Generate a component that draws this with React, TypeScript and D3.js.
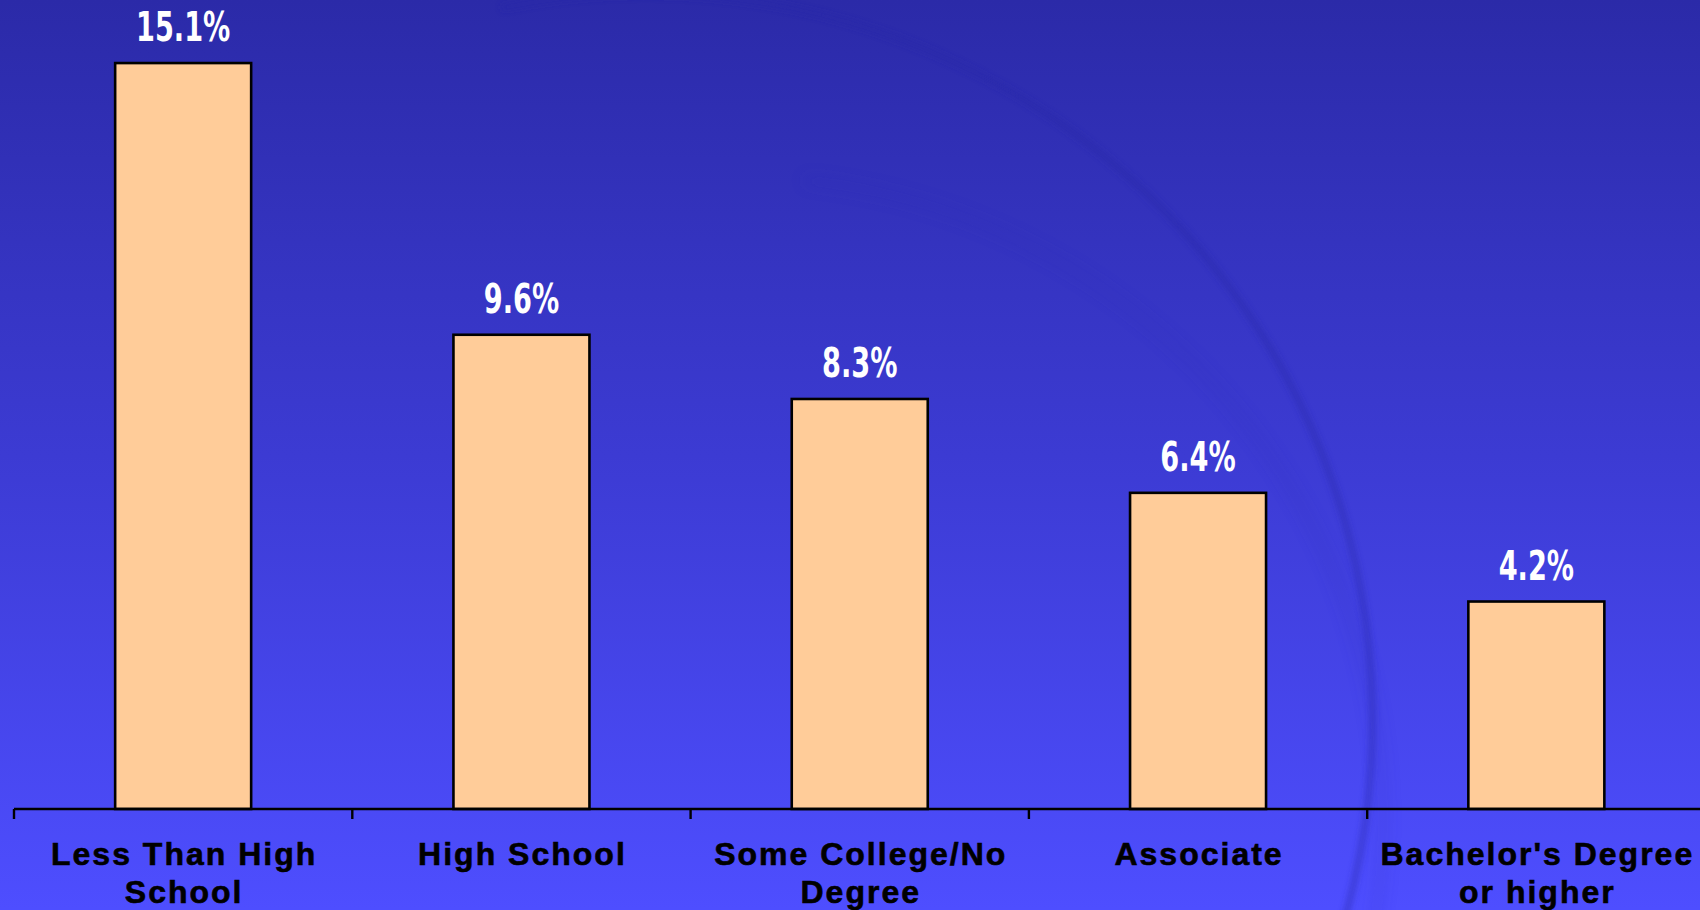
import React from "react";
import * as d3 from "d3";

const categories: string[] = [
  "Less Than High\nSchool",
  "High School",
  "Some College/No\nDegree",
  "Associate",
  "Bachelor's Degree\nor higher",
];
const values: number[] = [15.1, 9.6, 8.3, 6.4, 4.2];
const valueLabels: string[] = ["15.1%", "9.6%", "8.3%", "6.4%", "4.2%"];

const W = 1700;
const H = 910;
const AXIS_Y = 809;
const X0 = 14;
const STEP = 338.3;

export default function App() {
  const x = d3
    .scaleBand<string>()
    .domain(categories)
    .range([X0, X0 + STEP * categories.length])
    .paddingInner(0.598)
    .paddingOuter(0.299);
  const y = d3.scaleLinear().domain([0, 16]).range([AXIS_Y, AXIS_Y - 16 * 49.4]);

  const step = x.step();
  const ticks = d3.range(categories.length + 1).map((i) => X0 + i * step);

  const outerArc = d3.arc()({
    innerRadius: 724,
    outerRadius: 729,
    startAngle: -0.2,
    endAngle: Math.PI * 0.75,
  } as any) as string;
  const innerArc = d3.arc()({
    innerRadius: 640,
    outerRadius: 646,
    startAngle: 0.1,
    endAngle: Math.PI * 0.7,
  } as any) as string;

  return (
    <svg
      width={W}
      height={H}
      style={{ position: "absolute", left: 0, top: 0, display: "block" }}
    >
      <defs>
        <linearGradient id="bg" x1="0" y1="0" x2="0" y2="1">
          <stop offset="0%" stopColor="#2b2aa8" />
          <stop offset="50%" stopColor="#3c3bd3" />
          <stop offset="100%" stopColor="#4e4eff" />
        </linearGradient>
        <filter id="blur" x="-10%" y="-10%" width="120%" height="120%">
          <feGaussianBlur stdDeviation="3" />
        </filter>
        <filter id="blur2" x="-10%" y="-10%" width="120%" height="120%">
          <feGaussianBlur stdDeviation="8" />
        </filter>
      </defs>
      <rect x={0} y={0} width={W} height={H} fill="url(#bg)" />
      <g transform="translate(646,720)">
        <path d={outerArc} fill="#2626a8" opacity={0.55} filter="url(#blur)" />
      </g>
      <g transform="translate(740,820)">
        <path d={innerArc} fill="#2a2ab8" opacity={0.3} filter="url(#blur2)" />
      </g>

      {categories.map((c, i) => (
        <rect
          key={c}
          x={x(c)!}
          y={y(values[i])}
          width={x.bandwidth()}
          height={y(0) - y(values[i])}
          fill="#ffcc99"
          stroke="#000"
          strokeWidth={2.6}
        />
      ))}

      <line x1={X0} x2={W} y1={AXIS_Y} y2={AXIS_Y} stroke="#000" strokeWidth={2.4} />
      {ticks.map((t, i) => (
        <line key={i} x1={t} x2={t} y1={AXIS_Y} y2={AXIS_Y + 10} stroke="#000" strokeWidth={2.4} />
      ))}

      {categories.map((c, i) => {
        const cx = x(c)! + x.bandwidth() / 2;
        const ty = y(values[i]) - 22;
        return (
          <text
            key={"v" + c}
            transform={`translate(${cx},${ty}) scale(0.68,1)`}
            textAnchor="middle"
            fill="#fff"
            fontFamily="'DejaVu Sans', sans-serif"
            fontWeight="bold"
            fontSize={40}
          >
            {valueLabels[i]}
          </text>
        );
      })}

      {categories.map((c) => {
        const lines = c.split("\n");
        const cx = x(c)! + x.bandwidth() / 2 + 1;
        return (
          <text
            key={"c" + c}
            textAnchor="middle"
            fill="#000"
            stroke="#000"
            strokeWidth={0.6}
            fontFamily="'Liberation Sans', Arial, sans-serif"
            fontWeight="bold"
            fontSize={32}
            letterSpacing={2}
          >
            {lines.map((l, j) => (
              <tspan key={j} x={cx} y={865 + j * 38}>
                {l}
              </tspan>
            ))}
          </text>
        );
      })}
    </svg>
  );
}
